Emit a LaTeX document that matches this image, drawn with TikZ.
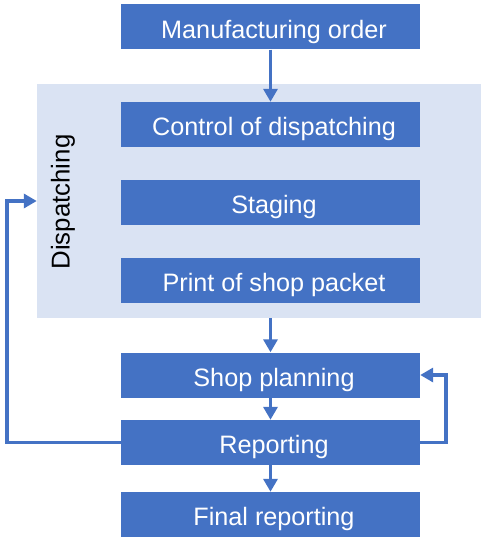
\documentclass[tikz,border=0pt]{standalone}
\usepackage{fontspec}
\setmainfont{Liberation Sans}
\usetikzlibrary{arrows.meta,positioning}
\definecolor{boxblue}{HTML}{4472C4}
\definecolor{zonefill}{HTML}{DAE3F3}
\begin{document}
\begin{tikzpicture}[x=1pt,y=-1pt,
  stepbox/.style={fill=boxblue,draw=none,minimum width=299pt,minimum height=45pt,
    inner sep=0pt,text=white,text height=22.6pt,text depth=0pt,
    font=\fontsize{25.2}{30}\selectfont,
    execute at begin node={\hspace*{7pt}}},
  flow/.style={draw=boxblue,line width=3.5pt,-{Triangle[width=14pt,length=13pt]}},
  loop/.style={flow}]
\useasboundingbox (0,0) rectangle (481,537);
% dispatching zone
\node[fill=zonefill,draw=none,minimum width=444pt,minimum height=234pt,inner sep=0pt]
  (disp) at (259,201) {};
\node[rotate=90,font=\fontsize{25.8}{30}\selectfont] (displabel) at (63,202) {Dispatching};
% process steps
\node[stepbox] (mo)    at (270.5,27)    {Manufacturing order};
\node[stepbox] (ctrl)  at (270.5,124.5) {Control of dispatching};
\node[stepbox] (stage) at (270.5,202.5) {Staging};
\node[stepbox] (print) at (270.5,280.5) {Print of shop packet};
\node[stepbox] (shop)  at (270.5,375)   {Shop planning};
\node[stepbox] (rep)   at (270.5,442.5) {Reporting};
\node[stepbox] (final) at (270.5,514.5) {Final reporting};
% connectors
\draw[flow] (mo.south) -- (ctrl.north);
\draw[flow] (shop.north |- disp.south) -- (shop.north);
\draw[flow] (shop.south) -- (rep.north);
\draw[flow] (rep.south) -- (final.north);
\coordinate (lbend) at (7,0);
\coordinate (rbend) at (446,0);
\draw[loop] (rep.west) -- (lbend |- rep.west) -- (lbend |- disp.west) -- (disp.west);
\draw[loop] (rep.east) -- (rbend |- rep.east) -- (rbend |- shop.east) -- (shop.east);
\end{tikzpicture}
\end{document}
